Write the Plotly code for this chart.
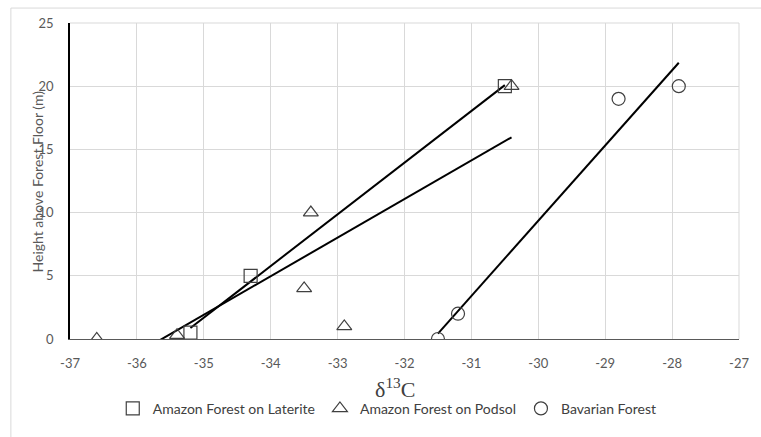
import numpy as np
import plotly.graph_objects as go

# ---- data ----
laterite_x = [-35.2, -34.3, -30.5]
laterite_y = [0.5, 5, 20]
podsol_x = [-36.6, -35.4, -33.5, -32.9, -33.4, -30.4]
podsol_y = [0, 0.3, 4, 1, 10, 20]
bavarian_x = [-31.5, -31.2, -28.8, -27.9]
bavarian_y = [0, 2, 19, 20]

series = [
    ("Amazon Forest on Laterite", laterite_x, laterite_y, "square-open"),
    ("Amazon Forest on Podsol", podsol_x, podsol_y, "triangle-up-open"),
    ("Bavarian Forest", bavarian_x, bavarian_y, "circle-open"),
]

x_ticks = list(range(-37, -26))
y_ticks = [0, 5, 10, 15, 20, 25]

# ---- layout constants (pixels) ----
W, H = 761, 437
L, R, T, B = 70, 12, 23, 97
PW = W - L - R
PH = H - T - B

def px_x(p):
    return (p - L) / PW

def px_y(p):
    return (H - B - p) / PH

fig = go.Figure()

# trend lines (least squares, over data x-range)
for name, xs, ys, sym in series:
    k, b = np.polyfit(xs, ys, 1)
    x0, x1 = min(xs), max(xs)
    fig.add_trace(go.Scatter(
        x=[x0, x1], y=[k * x0 + b, k * x1 + b], mode="lines",
        line=dict(color="black", width=2), showlegend=False, hoverinfo="skip"))

for name, xs, ys, sym in series:
    fig.add_trace(go.Scatter(
        x=xs, y=ys, mode="markers", name=name,
        marker=dict(symbol=sym, size=13, color="#404040",
                    line=dict(color="#404040", width=1.2))))

tickfont = dict(family="Lato", size=13, color="#595959")

fig.update_layout(
    width=W, height=H,
    margin=dict(l=L, r=R, t=T, b=B),
    paper_bgcolor="white", plot_bgcolor="white",
    showlegend=True,
    legend=dict(orientation="h", x=px_x(392), xanchor="center",
                y=px_y(410), yanchor="middle",
                font=dict(family="Lato", size=14, color="#404040"),
                itemwidth=30, tracegroupgap=0,
                bgcolor="rgba(0,0,0,0)"),
    xaxis=dict(range=[-37, -27], tickvals=x_ticks, ticktext=[str(v) for v in x_ticks],
               showgrid=True, gridcolor="#d9d9d9", gridwidth=1,
               zeroline=False, showline=True, linecolor="#595959", linewidth=1,
               ticks="outside", ticklen=12, tickcolor="rgba(0,0,0,0)",
               tickfont=tickfont, fixedrange=True),
    yaxis=dict(range=[0, 25], tickvals=y_ticks, ticktext=[str(v) for v in y_ticks],
               showgrid=True, gridcolor="#d9d9d9", gridwidth=1,
               zeroline=False, showline=True, linecolor="black", linewidth=1.5,
               ticks="outside", ticklen=12, tickcolor="rgba(0,0,0,0)",
               tickfont=tickfont, fixedrange=True),
    annotations=[
        dict(text="Height above Forest Floor (m)", textangle=-90,
             xref="paper", yref="paper", x=px_x(37), y=0.5,
             xanchor="center", yanchor="middle", showarrow=False,
             font=dict(family="Lato", size=14, color="#595959")),
        dict(text="δ<sup>13</sup>C",
             xref="paper", yref="paper", x=px_x(400), y=px_y(389),
             xanchor="center", yanchor="middle", showarrow=False,
             font=dict(family="Liberation Serif", size=22, color="#404040")),
    ],
    shapes=[
        dict(type="rect", xref="paper", yref="paper",
             x0=px_x(10), x1=px_x(W + 20), y0=px_y(H + 20), y1=px_y(8),
             line=dict(color="#d9d9d9", width=1), fillcolor="rgba(0,0,0,0)",
             layer="below"),
        dict(type="line", xref="paper", yref="paper", x0=0, x1=1, y0=1, y1=1,
             line=dict(color="#d9d9d9", width=1)),
        dict(type="line", xref="paper", yref="paper", x0=1, x1=1, y0=0, y1=1,
             line=dict(color="#d9d9d9", width=1)),
    ],
)

fig.write_html("out.html")
